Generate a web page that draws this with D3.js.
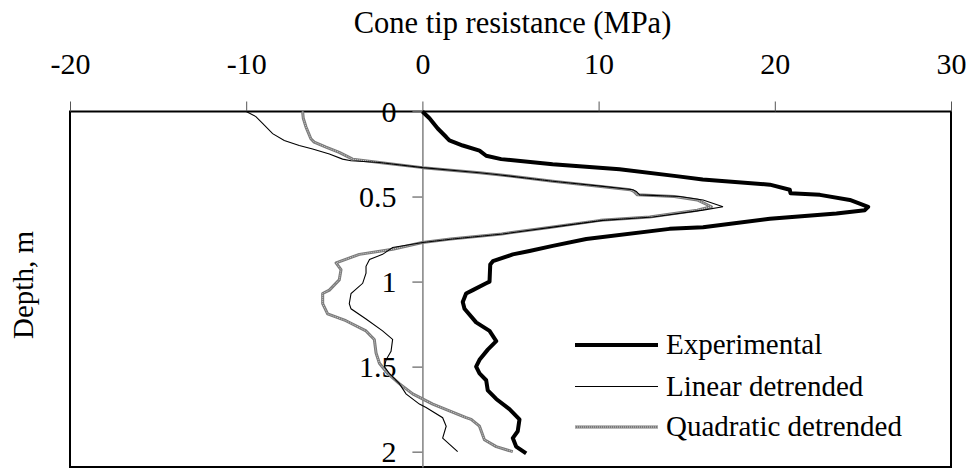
<!DOCTYPE html>
<html>
<head>
<meta charset="utf-8">
<script src="https://cdn.jsdelivr.net/npm/d3@7"></script>
<style>
  body { margin: 0; background: #fff; }
  svg text { font-family: "Liberation Serif", "Times New Roman", serif; fill: #000; }
</style>
</head>
<body>
<svg id="chart" width="974" height="468"></svg>
<script>
// Data: depth (m) and cone tip resistance (MPa)
var expDepth = [0.00, 0.04, 0.10, 0.15, 0.17, 0.20, 0.23, 0.26, 0.28, 0.31, 0.34, 0.38, 0.40, 0.43, 0.46, 0.48,
  0.49, 0.52, 0.56, 0.58, 0.60, 0.63, 0.68, 0.69, 0.75, 0.79, 0.82, 0.84, 0.88, 0.90, 1.00, 1.01, 1.05, 1.07,
  1.12, 1.16, 1.24, 1.29, 1.35, 1.40, 1.46, 1.50, 1.54, 1.58, 1.64, 1.69, 1.75, 1.81, 1.88, 1.92, 1.97, 2.01];
var expQc = [0.0, 0.4, 0.87, 1.35, 1.53, 2.29, 3.24, 3.62, 4.47, 7.39, 11.19, 14.41, 15.91, 19.72, 20.85, 20.89,
  22.56, 24.26, 25.3, 25.11, 23.5, 19.72, 15.93, 14.03, 9.3, 7.4, 6.08, 5.13, 4.0, 3.85, 3.81, 3.62, 2.86, 2.48,
  2.29, 2.39, 3.05, 3.81, 4.19, 3.71, 3.24, 3.05, 3.24, 3.62, 3.71, 4.19, 4.94, 5.51, 5.41, 5.13, 5.32, 5.89];

var linDepth = [0.00, 0.03, 0.07, 0.13, 0.17, 0.20, 0.22, 0.25, 0.28, 0.29, 0.30, 0.33, 0.36, 0.37, 0.41, 0.44,
  0.46, 0.47, 0.49, 0.50, 0.52, 0.56, 0.58, 0.62, 0.64, 0.68, 0.72, 0.75, 0.77, 0.80, 0.84, 0.87, 0.91, 0.95,
  1.01, 1.07, 1.13, 1.16, 1.22, 1.29, 1.34, 1.41, 1.46, 1.50, 1.54, 1.60, 1.66, 1.72, 1.74, 1.80, 1.85, 1.92, 2.00];
var linQc = [-10.0, -9.45, -9.07, -8.5, -7.84, -6.99, -6.23, -5.28, -4.53, -4.05, -2.44, 0.02, 3.24, 4.19, 7.4, 10.24,
  11.95, 12.14, 12.33, 14.6, 15.93, 17.06, 15.93, 13.09, 10.24, 7.4, 4.56, 1.72, 0.02, -1.69, -2.26, -3.0, -3.2, -3.2,
  -3.39, -4.05, -4.15, -4.05, -3.2, -2.26, -1.69, -1.78, -2.06, -2.16, -1.88, -1.31, -0.93, -0.17, 0.21, 1.15, 1.35, 1.15, 2.0];

var quadDepth = [0.00, 0.04, 0.09, 0.16, 0.18, 0.21, 0.24, 0.28, 0.30, 0.33, 0.36, 0.37, 0.41, 0.44, 0.46, 0.47,
  0.49, 0.50, 0.52, 0.56, 0.58, 0.62, 0.64, 0.68, 0.72, 0.75, 0.77, 0.81, 0.84, 0.89, 0.93, 0.99, 1.05, 1.07,
  1.13, 1.19, 1.23, 1.29, 1.34, 1.42, 1.48, 1.54, 1.60, 1.66, 1.72, 1.80, 1.81, 1.85, 1.93, 1.97, 2.00];
var quadQc = [-6.8, -6.76, -6.61, -6.33, -6.14, -5.47, -4.72, -3.96, -2.44, 0.02, 3.24, 4.19, 7.4, 10.0, 11.8, 12.0,
  12.2, 14.3, 15.6, 16.4, 15.6, 12.9, 10.1, 7.3, 4.5, 1.6, 0.0, -1.69, -3.58, -4.9, -4.62, -4.72, -5.28, -5.66,
  -5.66, -5.38, -4.34, -3.2, -2.73, -2.63, -2.44, -1.97, -1.31, -0.55, 0.59, 2.48, 2.77, 3.24, 3.52, 4.19, 5.13];

var xTicks = [-20, -10, 0, 10, 20, 30];
var yTicks = [0, 0.5, 1, 1.5, 2];
var seriesNames = ["Experimental", "Linear detrended", "Quadratic detrended"];

// Layout
var LEFT = 70, RIGHT = 951, TOP = 111.5, BOTTOM = 467;
var FONT = 29;

var svg = d3.select("#chart");

var x = d3.scaleLinear().domain([-20, 30]).range([LEFT, RIGHT]);
var y = d3.scaleLinear().domain([0, 2.09]).range([TOP, BOTTOM]);

function zip(ds, vs) {
  return ds.map(function (d, i) { return [vs[i], d]; });
}

var line = d3.line()
  .x(function (p) { return x(p[0]); })
  .y(function (p) { return y(p[1]); });

// Plot frame
svg.append("rect")
  .attr("x", LEFT).attr("y", TOP)
  .attr("width", RIGHT - LEFT).attr("height", BOTTOM - TOP)
  .attr("fill", "none").attr("stroke", "#000").attr("stroke-width", 2);

// Top x-axis
var xAxis = svg.append("g")
  .attr("transform", "translate(0," + TOP + ")")
  .call(d3.axisTop(x).tickValues(xTicks).tickSize(10).tickPadding(28).tickFormat(d3.format("d")));
xAxis.select(".domain").remove();
xAxis.selectAll(".tick line").attr("stroke", "#555").attr("stroke-width", 1);
xAxis.selectAll(".tick text")
  .style("font-family", "Liberation Serif, serif")
  .style("font-size", "30px")
  .text(function (d) { return d < 0 ? "-" + Math.abs(d) : d; });

// Depth axis at x = 0
var yAxis = svg.append("g")
  .attr("transform", "translate(" + x(0) + ",0)")
  .call(d3.axisLeft(y).tickValues(yTicks).tickSize(10).tickSizeOuter(0).tickPadding(16).tickFormat(d3.format("")));
yAxis.select(".domain").attr("stroke", "#808080").attr("stroke-width", 1.5);
yAxis.selectAll(".tick line").attr("stroke", "#808080").attr("stroke-width", 1.5);
yAxis.selectAll(".tick text")
  .style("font-family", "Liberation Serif, serif")
  .style("font-size", "30px");

// Axis titles
svg.append("text")
  .attr("x", (LEFT + RIGHT) / 2 + 2).attr("y", 33)
  .attr("text-anchor", "middle")
  .style("font-size", "30.5px")
  .text("Cone tip resistance (MPa)");

svg.append("text")
  .attr("transform", "translate(33," + 285 + ") rotate(-90)")
  .attr("text-anchor", "middle")
  .style("font-size", FONT + "px")
  .text("Depth, m");

// Series
var plot = svg.append("g");

function drawQuad(g, d) {
  g.append("path").attr("d", d).attr("fill", "none")
    .attr("stroke", "#7a7a7a").attr("stroke-width", 3).attr("stroke-linejoin", "round");
  g.append("path").attr("d", d).attr("fill", "none")
    .attr("stroke", "#d0d0d0").attr("stroke-width", 1).attr("stroke-dasharray", "1,1");
}

drawQuad(plot, line(zip(quadDepth, quadQc)));

plot.append("path")
  .attr("d", line(zip(linDepth, linQc)))
  .attr("fill", "none").attr("stroke", "#000").attr("stroke-width", 1.1);

plot.append("path")
  .attr("d", line(zip(expDepth, expQc)))
  .attr("fill", "none").attr("stroke", "#000").attr("stroke-width", 4)
  .attr("stroke-linejoin", "round");

// Legend
var legend = svg.append("g");
var legY = [345, 386.5, 427];
seriesNames.forEach(function (name, i) {
  var ly = legY[i];
  if (i === 0) {
    legend.append("line").attr("x1", 575).attr("x2", 658).attr("y1", ly).attr("y2", ly)
      .attr("stroke", "#000").attr("stroke-width", 4);
  } else if (i === 1) {
    legend.append("line").attr("x1", 575).attr("x2", 658).attr("y1", ly).attr("y2", ly)
      .attr("stroke", "#000").attr("stroke-width", 1.1);
  } else {
    drawQuad(legend, "M575," + ly + "H658");
  }
  legend.append("text")
    .attr("x", 666).attr("y", ly + 9)
    .style("font-size", FONT + "px")
    .text(name);
});
</script>
</body>
</html>
